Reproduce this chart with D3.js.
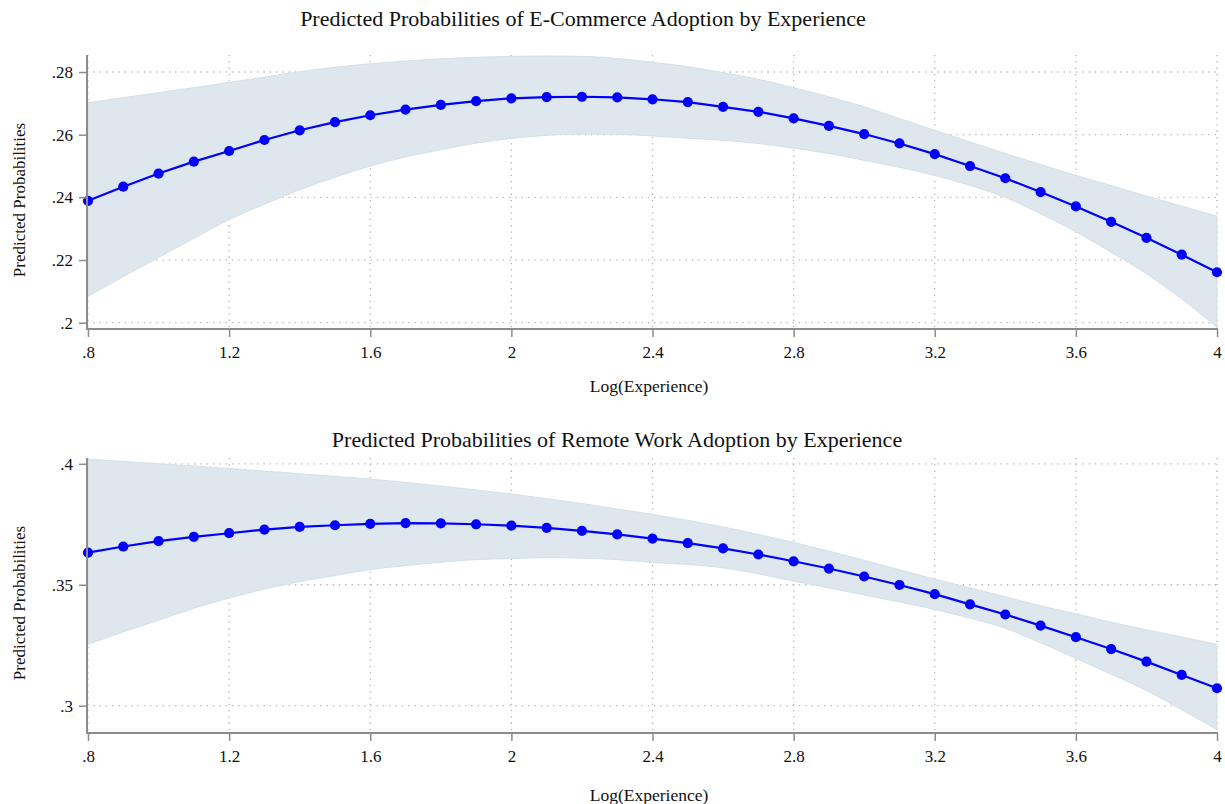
<!DOCTYPE html>
<html>
<head>
<meta charset="utf-8">
<script src="https://cdn.jsdelivr.net/npm/d3@7"></script>
<style>
  html, body { margin: 0; padding: 0; background: #fff; }
  svg { display: block; font-family: "Liberation Serif", "Times New Roman", serif; }
</style>
</head>
<body>
<svg id="chart" width="1225" height="804"></svg>
<script>
// ---------- data ----------
const logExperience = [0.8, 0.9, 1.0, 1.1, 1.2, 1.3, 1.4, 1.5, 1.6, 1.7, 1.8, 1.9, 2.0, 2.1, 2.2, 2.3, 2.4,
  2.5, 2.6, 2.7, 2.8, 2.9, 3.0, 3.1, 3.2, 3.3, 3.4, 3.5, 3.6, 3.7, 3.8, 3.9, 4.0];

const ecomPred = [0.2389, 0.2434, 0.2476, 0.2514, 0.2548, 0.2583, 0.2614, 0.2640, 0.2662, 0.2680, 0.2695,
  0.2707, 0.2716, 0.2720, 0.2721, 0.2719, 0.2713, 0.2704, 0.2689, 0.2673, 0.2652, 0.2628, 0.2602, 0.2572,
  0.2538, 0.2500, 0.2461, 0.2417, 0.2371, 0.2322, 0.2271, 0.2217, 0.2161];
const ecomUpper = [0.2702, 0.2718, 0.2734, 0.2750, 0.2767, 0.2784, 0.2801, 0.2815, 0.2826, 0.2835, 0.2842,
  0.2847, 0.2850, 0.2851, 0.2850, 0.2843, 0.2831, 0.2817, 0.2798, 0.2777, 0.2750, 0.2721, 0.2689, 0.2652,
  0.2614, 0.2577, 0.2540, 0.2505, 0.2470, 0.2438, 0.2404, 0.2372, 0.2340];
const ecomLower = [0.2084, 0.2147, 0.2208, 0.2269, 0.2329, 0.2378, 0.2424, 0.2464, 0.2500, 0.2529, 0.2552,
  0.2573, 0.2588, 0.2598, 0.2602, 0.2601, 0.2596, 0.2589, 0.2582, 0.2572, 0.2557, 0.2540, 0.2518, 0.2496,
  0.2470, 0.2438, 0.2400, 0.2348, 0.2290, 0.2225, 0.2156, 0.2076, 0.1985];

const remotePred = [0.3633, 0.3658, 0.3680, 0.3698, 0.3713, 0.3728, 0.3739, 0.3746, 0.3752, 0.3755, 0.3754,
  0.3750, 0.3744, 0.3735, 0.3723, 0.3708, 0.3691, 0.3672, 0.3650, 0.3625, 0.3597, 0.3567, 0.3534, 0.3499,
  0.3461, 0.3419, 0.3377, 0.3331, 0.3283, 0.3234, 0.3182, 0.3127, 0.3072];
const remoteUpper = [0.4019, 0.4010, 0.4000, 0.3991, 0.3981, 0.3970, 0.3959, 0.3948, 0.3937, 0.3923, 0.3908,
  0.3892, 0.3875, 0.3856, 0.3836, 0.3813, 0.3791, 0.3766, 0.3739, 0.3708, 0.3675, 0.3639, 0.3601, 0.3562,
  0.3523, 0.3487, 0.3450, 0.3413, 0.3380, 0.3345, 0.3314, 0.3284, 0.3253];
const remoteLower = [0.3254, 0.3305, 0.3353, 0.3403, 0.3445, 0.3482, 0.3513, 0.3538, 0.3563, 0.3579, 0.3593,
  0.3604, 0.3608, 0.3612, 0.3610, 0.3604, 0.3592, 0.3584, 0.3570, 0.3545, 0.3515, 0.3487, 0.3458, 0.3429,
  0.3398, 0.3362, 0.3320, 0.3260, 0.3196, 0.3130, 0.3063, 0.2983, 0.2901];

const xTicks = [0.8, 1.2, 1.6, 2.0, 2.4, 2.8, 3.2, 3.6, 4.0];
const ecomYTicks = [0.20, 0.22, 0.24, 0.26, 0.28];
const remoteYTicks = [0.30, 0.35, 0.40];

const titles = [
  "Predicted Probabilities of E-Commerce Adoption by Experience",
  "Predicted Probabilities of Remote Work Adoption by Experience"
];
const xAxisTitle = "Log(Experience)";
const yAxisTitle = "Predicted Probabilities";

// ---------- layout ----------
const panels = [
  { pred: ecomPred, upper: ecomUpper, lower: ecomLower, yTicks: ecomYTicks,
    yDomain: [0.19799, 0.28543], top: 55, bottom: 329, title: titles[0],
    titleX: 583, titleY: 26, xTitleY: 392, yTitleY: 200 },
  { pred: remotePred, upper: remoteUpper, lower: remoteLower, yTicks: remoteYTicks,
    yDomain: [0.2887, 0.4024], top: 458, bottom: 733, title: titles[1],
    titleX: 617, titleY: 447, xTitleY: 801, yTitleY: 603 }
];

const left = 88, right = 1217, axisX = 87;
const fmt = v => String(+v.toFixed(4)).replace(/^0\./, ".");

const svg = d3.select("#chart");
const axisColor = "#8c8c8c";

panels.forEach(p => {
  const x = d3.scaleLinear().domain([0.8, 4.0]).range([left, right]);
  const y = d3.scaleLinear().domain(p.yDomain).range([p.bottom, p.top]);
  const g = svg.append("g");
  const data = logExperience.map((v, i) => ({ x: v, p: p.pred[i], lo: p.lower[i], hi: p.upper[i] }));

  // gridlines
  g.append("g").selectAll("line.h").data(p.yTicks).join("line")
    .attr("x1", axisX).attr("x2", right)
    .attr("y1", d => y(d)).attr("y2", d => y(d))
    .attr("stroke", "#b4b4b4").attr("stroke-width", 1.3)
    .attr("stroke-dasharray", "1.3,5");
  g.append("g").selectAll("line.v").data(xTicks).join("line")
    .attr("x1", d => x(d)).attr("x2", d => x(d))
    .attr("y1", p.top).attr("y2", p.bottom)
    .attr("stroke", "#b4b4b4").attr("stroke-width", 1.3)
    .attr("stroke-dasharray", "1.3,5");

  // confidence band
  const area = d3.area().x(d => x(d.x)).y0(d => y(d.lo)).y1(d => y(d.hi)).curve(d3.curveMonotoneX);
  g.append("path").datum(data).attr("d", area)
    .attr("fill", "#dee7ed").attr("stroke", "#d4e0e7").attr("stroke-width", 1);

  // line + points
  const line = d3.line().x(d => x(d.x)).y(d => y(d.p));
  g.append("path").datum(data).attr("d", line)
    .attr("fill", "none").attr("stroke", "#0000ff").attr("stroke-width", 2.2);
  g.append("g").selectAll("circle").data(data).join("circle")
    .attr("cx", d => x(d.x)).attr("cy", d => y(d.p)).attr("r", 5.1)
    .attr("fill", "#0000ff");

  // axes
  const yAxis = d3.axisLeft(y).tickValues(p.yTicks).tickSize(8).tickPadding(6).tickFormat(fmt);
  const yG = g.append("g").attr("transform", `translate(${axisX},0)`).call(yAxis);
  const xAxis = d3.axisBottom(x).tickValues(xTicks).tickSize(8).tickPadding(9).tickFormat(fmt);
  const xG = g.append("g").attr("transform", `translate(0,${p.bottom})`).call(xAxis);
  [yG, xG].forEach(a => {
    a.select(".domain").remove();
    a.selectAll(".tick line").attr("stroke", axisColor).attr("stroke-width", 1.5);
    a.selectAll(".tick text").attr("fill", "#111").style("font-size", "17px")
      .style("font-family", '"Liberation Serif", "Times New Roman", serif');
  });
  g.append("line").attr("x1", axisX).attr("x2", axisX).attr("y1", p.top).attr("y2", p.bottom + 1)
    .attr("stroke", axisColor).attr("stroke-width", 2);
  g.append("line").attr("x1", axisX - 1).attr("x2", right + 1).attr("y1", p.bottom).attr("y2", p.bottom)
    .attr("stroke", axisColor).attr("stroke-width", 2);

  // titles
  g.append("text").attr("x", p.titleX).attr("y", p.titleY).attr("text-anchor", "middle")
    .style("font-size", "22px").attr("fill", "#111").text(p.title);
  g.append("text").attr("x", 649).attr("y", p.xTitleY).attr("text-anchor", "middle")
    .style("font-size", "17.5px").attr("fill", "#111").text(xAxisTitle);
  g.append("text").attr("transform", `translate(25,${p.yTitleY}) rotate(-90)`).attr("text-anchor", "middle")
    .style("font-size", "17px").attr("fill", "#111").text(yAxisTitle);
});
</script>
</body>
</html>
